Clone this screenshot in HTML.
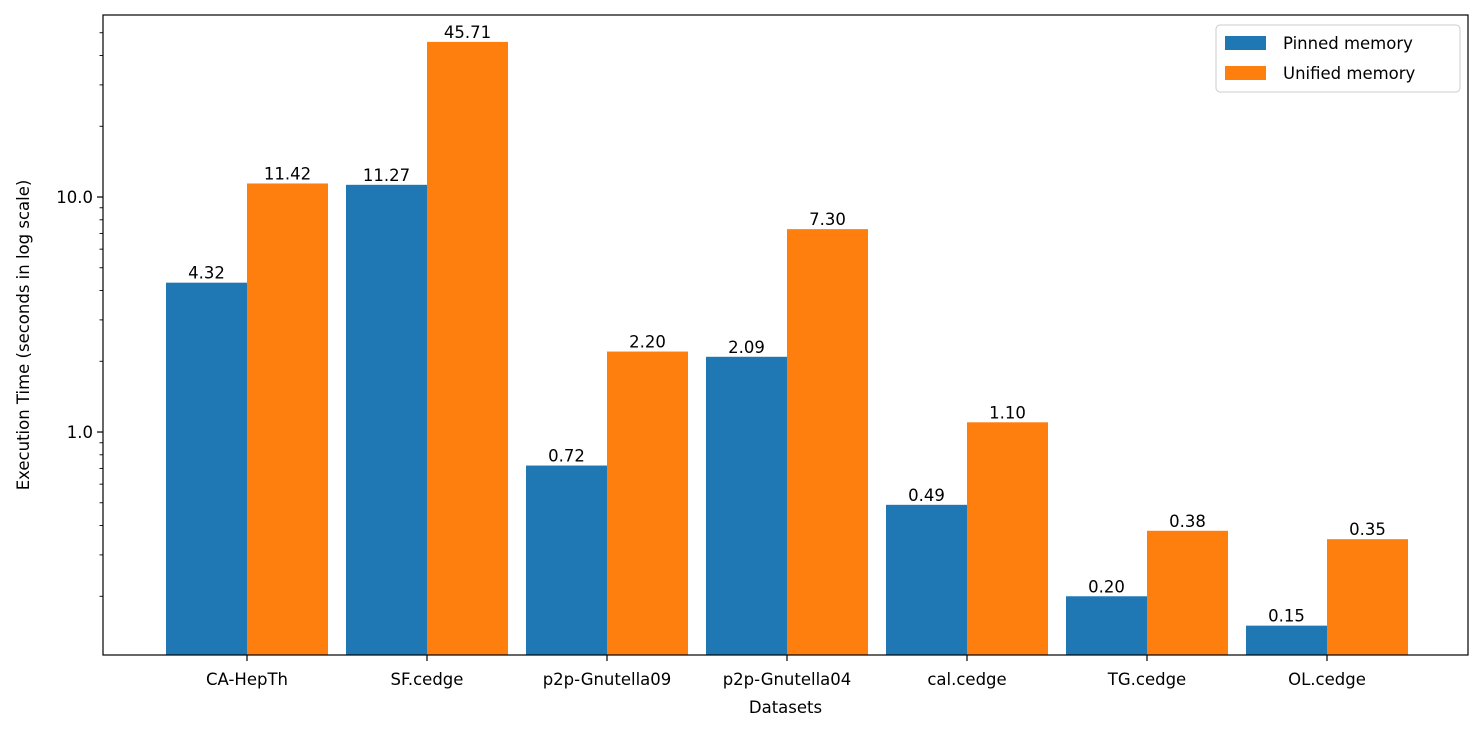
<!DOCTYPE html>
<html><head><meta charset="utf-8"><style>
body{margin:0;background:#fff;}
svg{display:block;font-family:"DejaVu Sans","Liberation Sans",sans-serif;}
</style></head><body>
<svg id="chart" width="1484" height="733"></svg>
<script>
const categories=["CA-HepTh","SF.cedge","p2p-Gnutella09","p2p-Gnutella04","cal.cedge","TG.cedge","OL.cedge"];
const pinned=[4.32,11.27,0.72,2.09,0.49,0.20,0.15];
const unified=[11.42,45.71,2.20,7.30,1.10,0.38,0.35];
const yTicks=[1,10];
const yTickLabels=["1.0","10.0"];
const seriesNames=["Pinned memory","Unified memory"];

const NS="http://www.w3.org/2000/svg";
const svg=document.getElementById('chart');
const L=103,R=1468,T=15,B=655;
const yMin=Math.log10(0.1125),yMax=Math.log10(59.5);
function y(v){return B-(Math.log10(v)-yMin)/(yMax-yMin)*(B-T);}
const step=180,first=247,bw=81;
function xc(i){return first+i*step;}
function el(tag,attrs,parent){const e=document.createElementNS(NS,tag);for(const k in attrs)e.setAttribute(k,attrs[k]);(parent||svg).appendChild(e);return e;}
function txt(s,attrs){const e=el('text',attrs);e.textContent=s;return e;}

const colors=["#1f77b4","#ff7f0e"];
[pinned,unified].forEach((arr,s)=>{
  arr.forEach((v,i)=>{
    const x0=xc(i)-bw+s*bw;
    const r=el('rect',{x:x0,y:y(v),width:bw,height:B-y(v),fill:colors[s]});
    
    
    const t=txt(v.toFixed(2),{x:x0+bw/2,y:y(v)-4,'text-anchor':'middle','font-size':'16.5',fill:'#000'});
    
    
  });
});
const fr=el('rect',{x:L,y:T,width:R-L,height:B-T,fill:'none',stroke:'#000','stroke-width':1.2});


yTicks.forEach((v,i)=>{
  el('line',{x1:L-6,x2:L,y1:y(v),y2:y(v),stroke:'#000','stroke-width':1.2});
  const t=txt(yTickLabels[i],{x:L-10,y:y(v)+6,'text-anchor':'end','font-size':'16.5'});
  
  
});
[0.1,1,10].forEach(d=>{for(let m=2;m<=9;m++){const v=d*m;const yy=y(v);if(yy>=T&&yy<=B)el('line',{x1:L-3.5,x2:L,y1:yy,y2:yy,stroke:'#000','stroke-width':0.9});}});
categories.forEach((c,i)=>{
  el('line',{x1:xc(i),x2:xc(i),y1:B,y2:B+6,stroke:'#000','stroke-width':1.2});
  const t=txt(c,{x:xc(i),y:B+30,'text-anchor':'middle','font-size':'16.5'});
  
  
});
const xt=txt("Datasets",{x:(L+R)/2,y:713,'text-anchor':'middle','font-size':'16.5'});


const yt=txt("Execution Time (seconds in log scale)",{x:0,y:0,'text-anchor':'middle','font-size':'16.5',transform:`translate(29,${(T+B)/2}) rotate(-90)`});


const lg=el('g',{});


el('rect',{x:1216,y:25,width:244,height:67,rx:4,fill:'#fff',stroke:'#ccc','stroke-width':1},lg);
seriesNames.forEach((n,i)=>{
  el('rect',{x:1225,y:36+i*30,width:41,height:14,fill:colors[i]},lg);
  const t=el('text',{x:1283,y:49+i*30,'font-size':'16.5'},lg);t.textContent=n;
  
  
});
</script>
</body></html>
